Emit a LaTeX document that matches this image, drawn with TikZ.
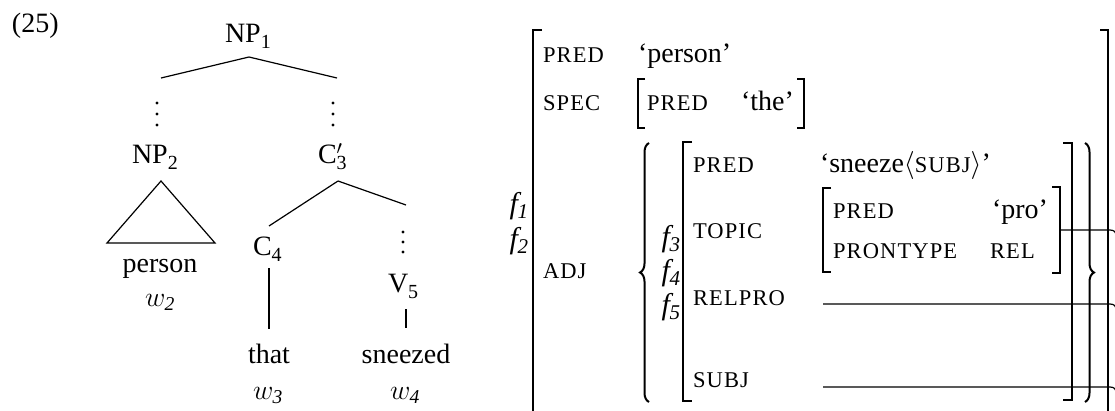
\RequirePackage{fix-cm}
\documentclass[tikz,border=0pt]{standalone}
\usepackage{fontspec}
\setmainfont{Liberation Serif}
\newfontfamily\scfont[LetterSpace=5]{Liberation Serif}
\usetikzlibrary{decorations.pathreplacing}
\newcommand\fsc[1]{{\scfont\fontsize{22.5}{24}\selectfont #1}}
\newcommand\fvar[1]{{\fontsize{30}{32}\selectfont\itshape f\kern-0.5pt\raisebox{-5pt}{\fontsize{21}{22}\selectfont #1}}}
\newcommand\sbs[1]{\raisebox{-6pt}{\fontsize{20}{22}\selectfont #1}}
\begin{document}
\begin{tikzpicture}[x=1pt,y=-1pt,
  font=\fontsize{28}{34}\selectfont,
  every node/.style={inner sep=0pt, outer sep=0pt},
  lbl/.style={anchor=base west},
  ctr/.style={anchor=base},
  rgt/.style={anchor=base east},
  tl/.style={line width=1.2pt},
  br/.style={line width=1.7pt},
  brc/.style={line width=2pt, decorate, decoration={brace, amplitude=9pt}},
  dot/.style={fill=black}
]
\useasboundingbox (0,0) rectangle (1115,410);

% ---------------- tree ----------------
\node[lbl] (ex) at (12,32) {(25)};
\node[lbl] (np1) at (225,42) {NP\sbs{1}};
\coordinate (np1b) at (249,57);
\coordinate (dl) at (161,78);
\coordinate (dr) at (337,78);
\draw[tl] (np1b) -- (dl);
\draw[tl] (np1b) -- (dr);
\foreach \yy in {103,114,125} {
  \fill[dot] (157,\yy) circle[radius=1.7];
  \fill[dot] (333,\yy) circle[radius=1.7];
}
\node[lbl] (np2) at (132,163) {NP\sbs{2}};
\node[lbl] (c3) at (318,163) {C\rlap{\raisebox{9pt}{$\scriptstyle\prime$}}\sbs{3}};
\coordinate (np2b) at (161,181);
\coordinate (trl) at (107,243);
\coordinate (trr) at (215,243);
\draw[tl] (np2b) -- (trl) -- (trr) -- cycle;
\node[ctr] (person) at (160,272) {person};
\node[ctr] (w2) at (160,306) {$w_{\mathit{2}}$};

\coordinate (c3b) at (338,181);
\coordinate (c4t) at (269,226);
\coordinate (d3) at (406,205);
\draw[tl] (c3b) -- (c4t);
\draw[tl] (c3b) -- (d3);
\foreach \yy in {232,242,252} \fill[dot] (403,\yy) circle[radius=1.7];
\node[lbl] (c4) at (253,255) {C\sbs{4}};
\node[lbl] (v5) at (388,292) {V\sbs{5}};
\coordinate (c4b) at (269,268);
\coordinate (thatt) at (269,329);
\coordinate (v5b) at (406,309);
\coordinate (sneezt) at (406,328);
\draw[tl] (c4b) -- (thatt);
\draw[tl] (v5b) -- (sneezt);
\node[ctr] (that) at (269,363) {that};
\node[ctr] (sneezed) at (406,363) {sneezed};
\node[ctr] (w3) at (268,399) {$w_{\mathit{3}}$};
\node[ctr] (w4) at (405,399) {$w_{\mathit{4}}$};

% ---------------- f-structure ----------------
\draw[br] (542,30) -- (533,30) -- (533,415);
\draw[br] (1100,30) -- (1108,30) -- (1108,415);
\node[lbl] (pred1) at (543,62) {\fsc{PRED}};
\node[lbl] (personq) at (638,62) {`person'};
\node[lbl] (spec) at (543,110) {\fsc{SPEC}};
\draw[br] (645,79) -- (638,79) -- (638,128) -- (645,128);
\node[lbl] (pred2) at (647,110) {\fsc{PRED}};
\node[lbl] (the) at (741,110) {`the'};
\draw[br] (797,79) -- (804,79) -- (804,128) -- (797,128);

\node[rgt] (f1) at (528,213) {\fvar{1}};
\node[rgt] (f2) at (528,248) {\fvar{2}};
\node[lbl] (adj) at (543,278) {\fsc{ADJ}};

\draw[brc] (649,402) -- (649,143);
\node[rgt] (f3) at (680,246) {\fvar{3}};
\node[rgt] (f4) at (680,280) {\fvar{4}};
\node[rgt] (f5) at (680,314) {\fvar{5}};
\draw[br] (692,142) -- (683,142) -- (683,401) -- (692,401);
\node[lbl] (pred3) at (693,172) {\fsc{PRED}};
\node[lbl] (topic) at (693,238) {\fsc{TOPIC}};
\node[lbl] (relpro) at (693,305) {\fsc{RELPRO}};
\node[lbl] (subj) at (693,387) {\fsc{SUBJ}};
\node[lbl] (sneeze) at (820,172) {`sneeze$\langle$\fsc{SUBJ}$\rangle$'};

\draw[br] (831,188) -- (823,188) -- (823,272) -- (831,272);
\node[lbl] (pred4) at (833,218) {\fsc{PRED}};
\node[lbl] (prontype) at (833,258) {\fsc{PRONTYPE}};
\node[lbl] (pro) at (992,218) {`pro'};
\node[lbl] (rel) at (990,258) {\fsc{REL}};
\draw[br] (1052,187) -- (1060,187) -- (1060,273) -- (1052,273);
\draw[br] (1063,143) -- (1072,143) -- (1072,400) -- (1063,400);
\draw[brc] (1085,143) -- (1085,402);

% connectors to the right edge
\coordinate (topicend) at (1060,230);
\coordinate (relstart) at (823,304);
\coordinate (subjstart) at (823,387);
\coordinate (e1) at (1110,230);
\coordinate (e2) at (1110,304);
\coordinate (e3) at (1110,387);
\draw[tl] (topicend) -- (e1) .. controls (1114,230) and (1116,232) .. (1116,236);
\draw[tl] (relstart) -- (e2) .. controls (1114,304) and (1116,306) .. (1116,310);
\draw[tl] (subjstart) -- (e3) .. controls (1114,387) and (1116,389) .. (1116,393);
\end{tikzpicture}
\end{document}
